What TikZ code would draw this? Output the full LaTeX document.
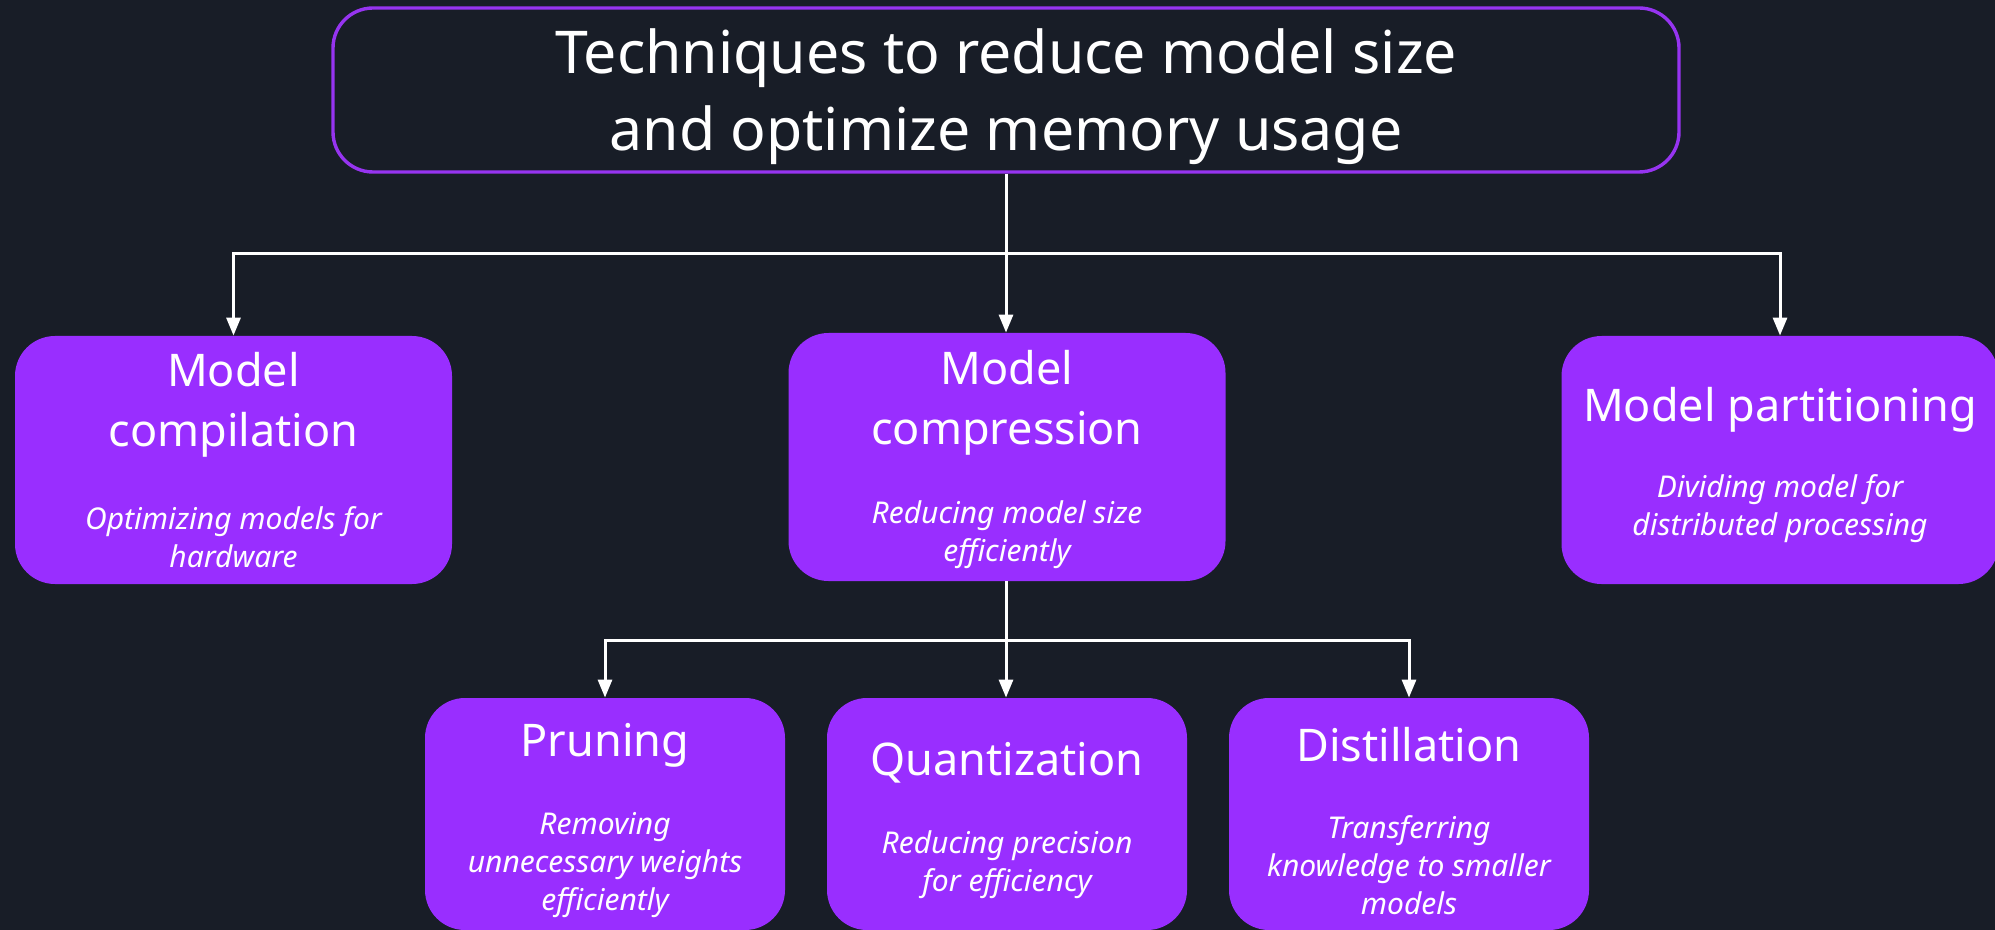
\documentclass[tikz,border=0pt]{standalone}
\usepackage{fontspec}
\setmainfont{Noto Sans}
\usetikzlibrary{arrows.meta}
\definecolor{bg}{RGB}{24,29,39}
\definecolor{cardfill}{RGB}{153,46,255}
\definecolor{rim}{RGB}{150,52,240}
\begin{document}
\begin{tikzpicture}[x=0.5pt,y=-0.5pt,
  card/.style={fill=cardfill, draw=none, rounded corners=20pt, inner sep=0pt,
    minimum width=218.5pt, minimum height=124pt},
  lowcard/.style={card, minimum width=180pt, minimum height=116pt},
  head/.style={text=white, align=center, font=\fontsize{22.5}{30}\selectfont},
  desc/.style={text=white, align=center, font=\fontsize{15}{19}\selectfont\itshape},
  conn/.style={draw=white, line width=1.5pt, -{Triangle[width=7pt,length=9pt]}},
  link/.style={draw=white, line width=1.5pt}]
\fill[bg] (0,0) rectangle (1995,930);
\useasboundingbox (0,0) rectangle (1995,930);

% root box
\node[draw=rim, line width=1.7pt, rounded corners=20pt, fill=bg,
  minimum width=673pt, minimum height=82pt] (root) at (1006,90) {};
\node[text=white, align=center, font=\fontsize{29.5}{38.5}\selectfont] (roottxt) at (1006,97)
  {Techniques to reduce model size\\and optimize memory usage};

% first level
\node[card] (compile) at (233.5,460) {};
\node[card] (compress) at (1007,457) {};
\node[card] (partition) at (1780,460) {};

\node[head] (compileh) at (233.5,405) {Model\\compilation};
\node[desc] (compiled) at (233.5,537) {Optimizing models for\\hardware};
\node[head] (compressh) at (1007,403) {Model\\compression};
\node[desc] (compressd) at (1007,535) {Reducing model size\\efficiently};
\node[head] (partitionh) at (1780,410) {Model partitioning};
\node[desc] (partitiond) at (1780,509) {Dividing model for\\distributed processing};

% second level
\node[lowcard] (prune) at (605,814) {};
\node[lowcard] (quant) at (1007,814) {};
\node[lowcard] (distil) at (1409,814) {};

\node[head] (pruneh) at (605,745) {Pruning};
\node[desc] (pruned) at (605,865) {Removing\\unnecessary weights\\efficiently};
\node[head] (quanth) at (1007,763) {Quantization};
\node[desc] (quantd) at (1007,865) {Reducing precision\\for efficiency};
\node[head] (distilh) at (1409,745) {Distillation};
\node[desc] (distild) at (1409,865) {Transferring\\knowledge to smaller\\models};

% connectors
\coordinate (fork1) at (1006,254);
\coordinate (fork2) at (1006,640);
\draw[link] (root.south -| fork1) -- (fork1);
\draw[conn] (fork1) -| (compile.north);
\draw[conn] (fork1) -| (partition.north);
\draw[conn] (fork1) -- (compress.north -| fork1);
\draw[link] (compress.south -| fork2) -- (fork2);
\draw[conn] (fork2) -| (prune.north);
\draw[conn] (fork2) -| (distil.north);
\draw[conn] (fork2) -- (quant.north -| fork2);
\end{tikzpicture}
\end{document}
